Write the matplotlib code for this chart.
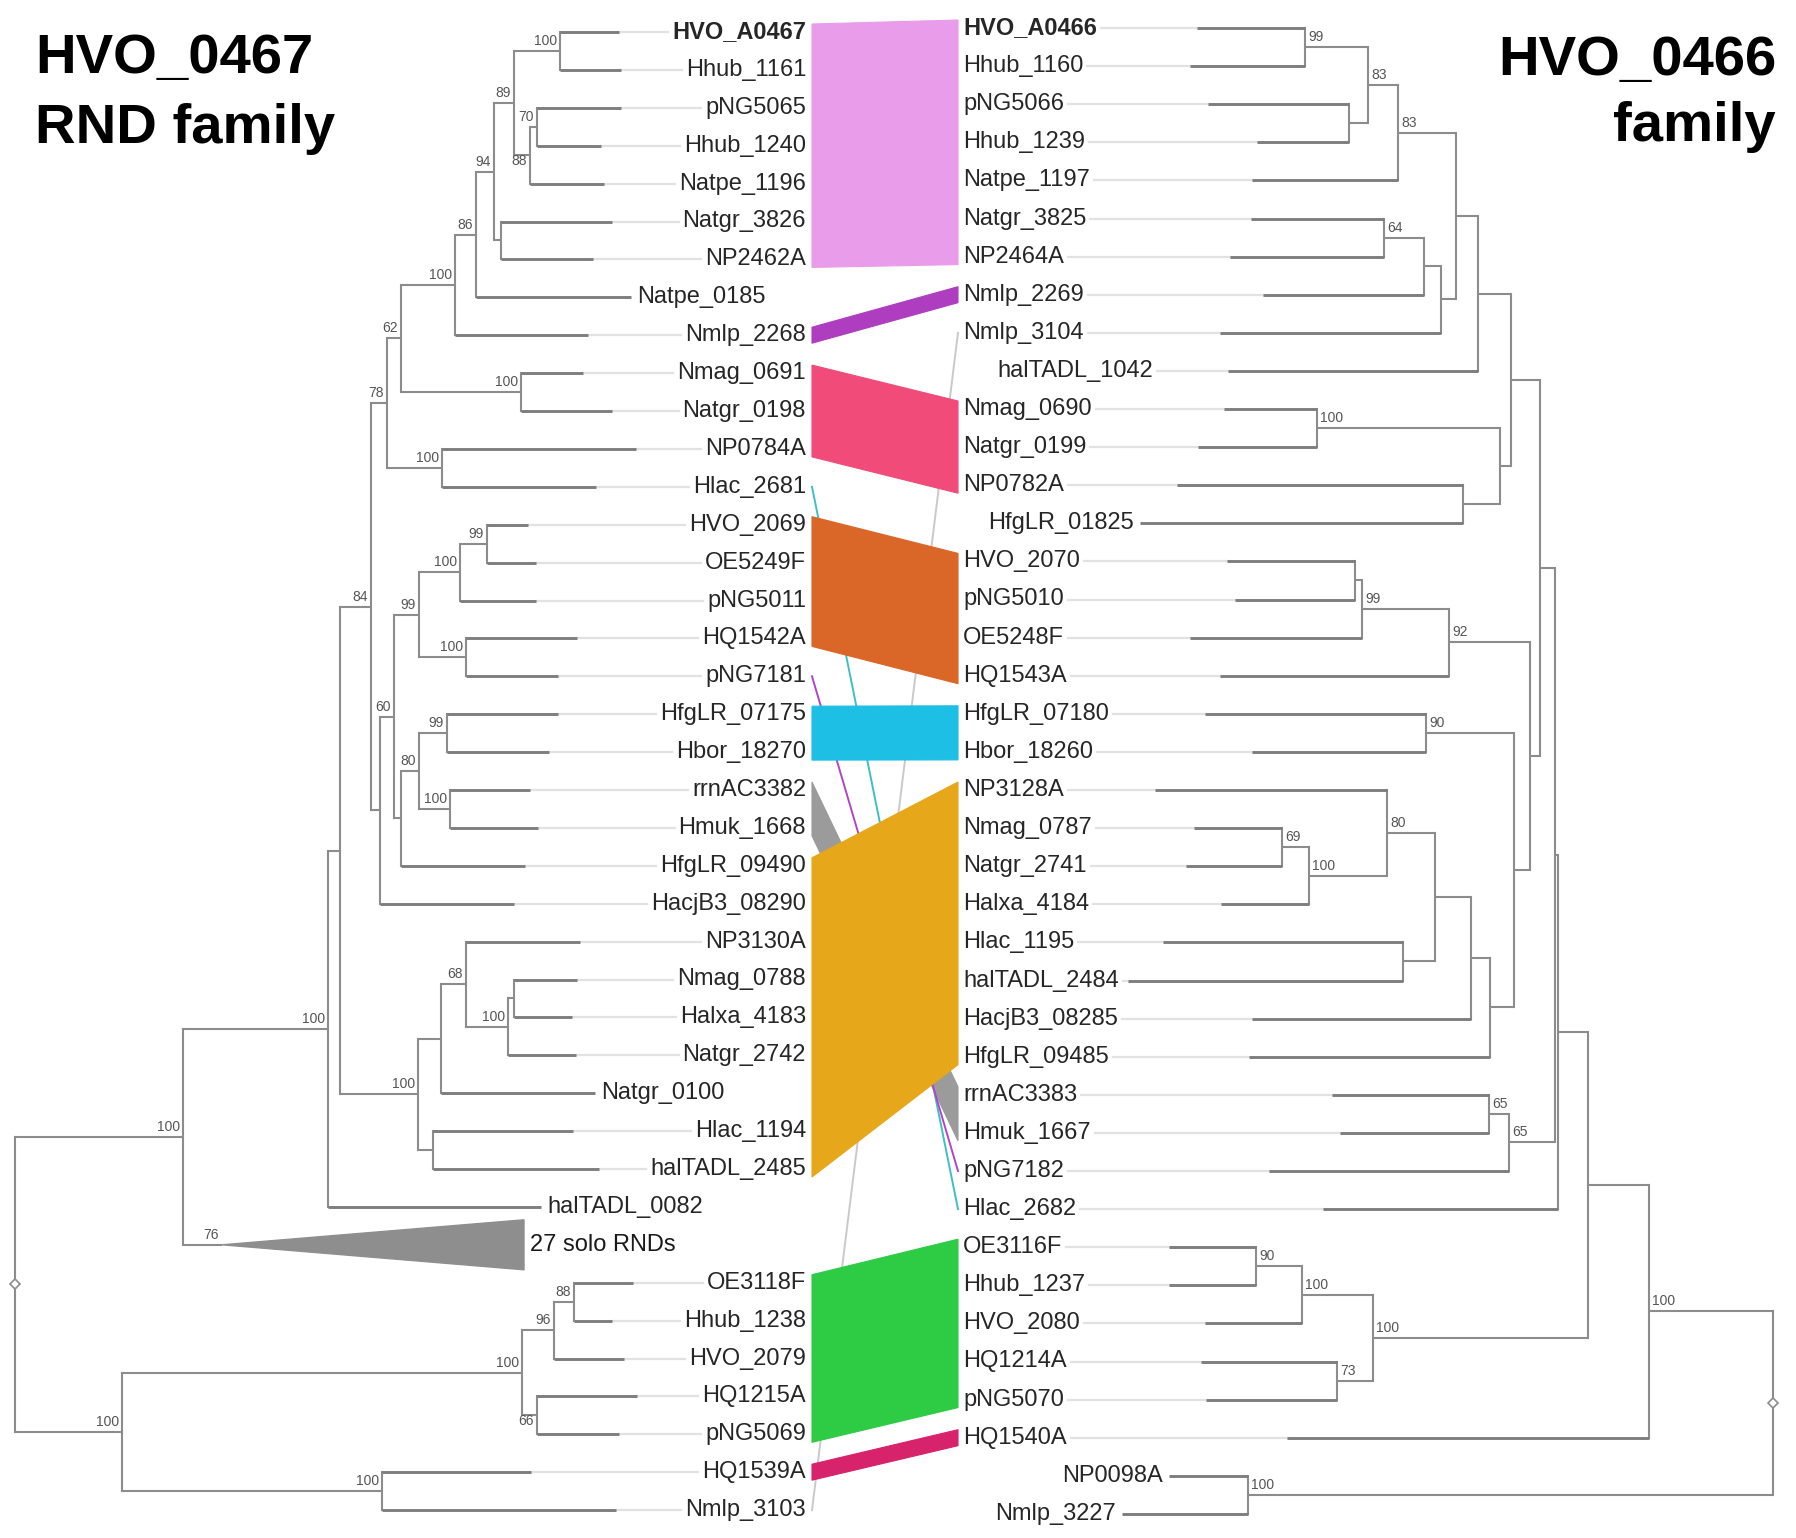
import matplotlib
matplotlib.use("Agg")
import matplotlib.pyplot as plt
from matplotlib.patches import Polygon

plt.rcParams["font.family"] = ["Liberation Sans", "DejaVu Sans"]

# ---------------- left tree: HVO_0467 RND family (top to bottom) ----------------
left_leaves = ["HVO_A0467", "Hhub_1161", "pNG5065", "Hhub_1240", "Natpe_1196", "Natgr_3826",
               "NP2462A", "Natpe_0185", "Nmlp_2268", "Nmag_0691", "Natgr_0198", "NP0784A",
               "Hlac_2681", "HVO_2069", "OE5249F", "pNG5011", "HQ1542A", "pNG7181",
               "HfgLR_07175", "Hbor_18270", "rrnAC3382", "Hmuk_1668", "HfgLR_09490",
               "HacjB3_08290", "NP3130A", "Nmag_0788", "Halxa_4183", "Natgr_2742", "Natgr_0100",
               "Hlac_1194", "halTADL_2485", "halTADL_0082", "27 solo RNDs", "OE3118F",
               "Hhub_1238", "HVO_2079", "HQ1215A", "pNG5069", "HQ1539A", "Nmlp_3103"]
# distance of each tip from the root
left_tips = [604, 606, 606, 586, 589, 597, 578, 616, 573, 568, 597, 621, 581, 513, 521, 521,
             562, 543, 543, 534, 515, 523, 510, 499, 565, 562, 557, 561, 580, 558, 584, 526,
             509, 618, 597, 609, 622, 604, 516, 601]
# collapsed clade: start of triangle, support
left_collapsed = {"27 solo RNDs": (207, "76")}
# (node, children, depth from root, bootstrap)
left_nodes = [
    ("a1", ["HVO_A0467", "Hhub_1161"], 545, "100"),
    ("a2", ["pNG5065", "Hhub_1240"], 522, "70"),
    ("a3", ["a2", "Natpe_1196"], 515, "88"),
    ("a4", ["a1", "a3"], 499, "89"),
    ("a5", ["Natgr_3826", "NP2462A"], 486, ""),
    ("a6", ["a4", "a5"], 479, "94"),
    ("a7", ["a6", "Natpe_0185"], 461, "86"),
    ("a8", ["a7", "Nmlp_2268"], 440, "100"),
    ("a9", ["Nmag_0691", "Natgr_0198"], 506, "100"),
    ("a10", ["a8", "a9"], 386, "62"),
    ("a11", ["NP0784A", "Hlac_2681"], 427, "100"),
    ("a12", ["a10", "a11"], 372, "78"),
    ("b1", ["HVO_2069", "OE5249F"], 472, "99"),
    ("b2", ["b1", "pNG5011"], 445, "100"),
    ("b3", ["HQ1542A", "pNG7181"], 451, "100"),
    ("b4", ["b2", "b3"], 404, "99"),
    ("b5", ["HfgLR_07175", "Hbor_18270"], 432, "99"),
    ("b6", ["rrnAC3382", "Hmuk_1668"], 435, "100"),
    ("b7", ["b5", "b6"], 404, "80"),
    ("b8", ["b7", "HfgLR_09490"], 386, ""),
    ("b9", ["b4", "b8"], 379, "60"),
    ("b10", ["b9", "HacjB3_08290"], 365, ""),
    ("b11", ["a12", "b10"], 356, "84"),
    ("c1", ["Nmag_0788", "Halxa_4183"], 499, ""),
    ("c2", ["c1", "Natgr_2742"], 493, "100"),
    ("c3", ["NP3130A", "c2"], 451, "68"),
    ("c4", ["c3", "Natgr_0100"], 426, ""),
    ("c5", ["Hlac_1194", "halTADL_2485"], 418, ""),
    ("c6", ["c4", "c5"], 403, "100"),
    ("c7", ["b11", "c6"], 325, ""),
    ("c8", ["c7", "halTADL_0082"], 313, "100"),
    ("c9", ["c8", "27 solo RNDs"], 168, "100"),
    ("d1", ["OE3118F", "Hhub_1238"], 559, "88"),
    ("d2", ["d1", "HVO_2079"], 539, "96"),
    ("d3", ["HQ1215A", "pNG5069"], 522, "66"),
    ("d4", ["d2", "d3"], 507, "100"),
    ("d5", ["HQ1539A", "Nmlp_3103"], 367, "100"),
    ("d6", ["d4", "d5"], 107, "100"),
    ("root", ["c9", "d6"], 0, ""),
]
left_support_below = {"a3", "d3"}

# ---------------- right tree: HVO_0466 family (top to bottom) ----------------
right_leaves = ["HVO_A0466", "Hhub_1160", "pNG5066", "Hhub_1239", "Natpe_1197", "Natgr_3825",
                "NP2464A", "Nmlp_2269", "Nmlp_3104", "halTADL_1042", "Nmag_0690", "Natgr_0199",
                "NP0782A", "HfgLR_01825", "HVO_2070", "pNG5010", "OE5248F", "HQ1543A",
                "HfgLR_07180", "Hbor_18260", "NP3128A", "Nmag_0787", "Natgr_2741", "Halxa_4184",
                "Hlac_1195", "halTADL_2484", "HacjB3_08285", "HfgLR_09485", "rrnAC3383",
                "Hmuk_1667", "pNG7182", "Hlac_2682", "OE3116F", "Hhub_1237", "HVO_2080",
                "HQ1214A", "pNG5070", "HQ1540A", "NP0098A", "Nmlp_3227"]
right_tips = [576, 583, 565, 516, 521, 522, 543, 510, 553, 545, 549, 575, 596, 633, 546, 538,
              583, 553, 568, 521, 618, 579, 587, 552, 610, 645, 521, 524, 441, 433, 504, 450,
              604, 604, 568, 572, 567, 486, 604, 651]
right_nodes = [
    ("r1", ["HVO_A0466", "Hhub_1160"], 468, "99"),
    ("r2", ["pNG5066", "Hhub_1239"], 424, ""),
    ("r3", ["r1", "r2"], 405, "83"),
    ("r4", ["r3", "Natpe_1197"], 375, "83"),
    ("r5", ["Natgr_3825", "NP2464A"], 389, "64"),
    ("r6", ["r5", "Nmlp_2269"], 349, ""),
    ("r7", ["r6", "Nmlp_3104"], 332, ""),
    ("r8", ["r4", "r7"], 317, ""),
    ("r9", ["r8", "halTADL_1042"], 295, ""),
    ("r10", ["Nmag_0690", "Natgr_0199"], 456, "100"),
    ("r11", ["NP0782A", "HfgLR_01825"], 310, ""),
    ("r12", ["r10", "r11"], 273, ""),
    ("r13", ["r9", "r12"], 262, ""),
    ("s1", ["HVO_2070", "pNG5010"], 418, ""),
    ("s2", ["s1", "OE5248F"], 411, "99"),
    ("s3", ["s2", "HQ1543A"], 324, "92"),
    ("s4", ["HfgLR_07180", "Hbor_18260"], 347, "90"),
    ("s5", ["Nmag_0787", "Natgr_2741"], 491, "69"),
    ("s6", ["s5", "Halxa_4184"], 464, "100"),
    ("s7", ["NP3128A", "s6"], 386, "80"),
    ("s8", ["Hlac_1195", "halTADL_2484"], 370, ""),
    ("s9", ["s7", "s8"], 338, ""),
    ("s10", ["s9", "HacjB3_08285"], 302, ""),
    ("s11", ["s10", "HfgLR_09485"], 283, ""),
    ("s12", ["s4", "s11"], 259, ""),
    ("s13", ["s3", "s12"], 243, ""),
    ("s14", ["r13", "s13"], 233, ""),
    ("t1", ["rrnAC3383", "Hmuk_1667"], 284, "65"),
    ("t2", ["t1", "pNG7182"], 264, "65"),
    ("t3", ["s14", "t2"], 218, ""),
    ("t4", ["t3", "Hlac_2682"], 215, ""),
    ("u1", ["OE3116F", "Hhub_1237"], 517, "90"),
    ("u2", ["u1", "HVO_2080"], 471, "100"),
    ("u3", ["HQ1214A", "pNG5070"], 436, "73"),
    ("u4", ["u2", "u3"], 400, "100"),
    ("u5", ["t4", "u4"], 185, ""),
    ("u6", ["u5", "HQ1540A"], 124, "100"),
    ("u7", ["NP0098A", "Nmlp_3227"], 525, "100"),
    ("root", ["u6", "u7"], 0, ""),
]
# unlinked label set in a second, indented column
right_indented = {"halTADL_1042"}

# ---------------- connections between the two trees ----------------
bands = [
    (["HVO_A0467", "Hhub_1161", "pNG5065", "Hhub_1240", "Natpe_1196", "Natgr_3826", "NP2462A"],
     ["HVO_A0466", "Hhub_1160", "pNG5066", "Hhub_1239", "Natpe_1197", "Natgr_3825", "NP2464A"],
     "#e99cea"),
    (["Nmlp_2268"], ["Nmlp_2269"], "#ae3ebf"),
    (["Nmag_0691", "Natgr_0198", "NP0784A"], ["Nmag_0690", "Natgr_0199", "NP0782A"], "#f04b79"),
    (["HVO_2069", "OE5249F", "pNG5011", "HQ1542A"],
     ["HVO_2070", "pNG5010", "OE5248F", "HQ1543A"], "#da6627"),
    (["HfgLR_07175", "Hbor_18270"], ["HfgLR_07180", "Hbor_18260"], "#1ebfe5"),
    (["HfgLR_09490", "HacjB3_08290", "NP3130A", "Nmag_0788", "Halxa_4183", "Natgr_2742",
      "Hlac_1194", "halTADL_2485"],
     ["NP3128A", "Nmag_0787", "Natgr_2741", "Halxa_4184", "Hlac_1195", "halTADL_2484",
      "HacjB3_08285", "HfgLR_09485"], "#e6a71b"),
    (["OE3118F", "Hhub_1238", "HVO_2079", "HQ1215A", "pNG5069"],
     ["OE3116F", "Hhub_1237", "HVO_2080", "HQ1214A", "pNG5070"], "#2ecb45"),
    (["HQ1539A"], ["HQ1540A"], "#d7226c"),
]
back_bands = [(["rrnAC3382", "Hmuk_1668"], ["rrnAC3383", "Hmuk_1667"], "#9b9b9b")]
links = [("Nmlp_3103", "Nmlp_3104", "#c9c9c9"),
         ("Hlac_2681", "Hlac_2682", "#3fbfc4"),
         ("pNG7181", "pNG7182", "#b045c6")]
bold_leaves = {"HVO_A0467", "HVO_A0466"}

# ---------------- layout ----------------
W, H = 1796, 1538
left_root_x, right_root_x = 15, 1773
left_row0, left_step = 32, 37.9
right_row0, right_step = 28, 38.1
left_label_x, right_label_x = 806, 963
indent_label_x = 997
band_left_x, band_right_x = 812, 958
band_pad = 8
tree_col, tip_col, guide_col = "#8c8c8c", "#7e7e7e", "#e2e2e2"
label_fs, support_fs = 17, 10

fig = plt.figure(figsize=(W / 100, H / 100), dpi=100)
ax = fig.add_axes([0, 0, 1, 1])
ax.set_xlim(0, W)
ax.set_ylim(H, 0)
ax.axis("off")
renderer = fig.canvas.get_renderer()

linked_left = set()
linked_right = set()
for l, r, _ in bands + back_bands:
    linked_left.update(l)
    linked_right.update(r)
for l, r, _ in links:
    linked_left.add(l)
    linked_right.add(r)


def text_xrange(t):
    bb = t.get_window_extent(renderer)
    inv = ax.transData.inverted()
    return inv.transform((bb.x0, 0))[0], inv.transform((bb.x1, 0))[0]


def draw_tree(leaves, tips, nodes, side, root_x, row0, step, linked,
              collapsed=None, below=(), indented=()):
    collapsed = collapsed or {}
    sign = 1 if side == "left" else -1
    X = lambda d: root_x + sign * d
    leaf_y = {n: row0 + step * i for i, n in enumerate(leaves)}
    tip_d = dict(zip(leaves, tips))
    node_map = {n: (ch, d, s) for n, ch, d, s in nodes}
    cache = {}

    def ypos(n):
        if n in leaf_y:
            return leaf_y[n]
        if n not in cache:
            ys = [ypos(c) for c in node_map[n][0]]
            cache[n] = (min(ys) + max(ys)) / 2
        return cache[n]

    def start_depth(c):
        if c in node_map:
            return node_map[c][1]
        if c in collapsed:
            return collapsed[c][0]
        return tip_d[c]

    for n, (children, d, sup) in node_map.items():
        x = X(d)
        ys = [ypos(c) for c in children]
        ax.plot([x, x], [min(ys), max(ys)], color=tree_col, lw=1.5,
                solid_capstyle="projecting", zorder=3)
        for c in children:
            is_leaf = c in leaf_y and c not in collapsed
            ax.plot([x, X(start_depth(c))], [ypos(c), ypos(c)],
                    color=tip_col if is_leaf else tree_col, lw=2.1 if is_leaf else 1.5,
                    solid_capstyle="butt", zorder=3)
        if sup:
            yy = ypos(n)
            off = 13 if n in below else -3
            ax.text(X(d) - sign * 3, yy + off, sup, fontsize=support_fs, color="#555555",
                    ha="right" if side == "left" else "left", va="bottom", zorder=4)
        if d == 0:
            ax.plot([x], [ypos(n)], marker="D", ms=5, mfc="white", mec=tree_col, mew=1.2,
                    zorder=5)

    for c, (d0, sup) in collapsed.items():
        y = leaf_y[c]
        x0, x1 = X(d0), X(tip_d[c])
        ax.add_patch(Polygon([(x0, y), (x1, y - 25), (x1, y + 25)], closed=True,
                             fc="#8e8e8e", ec="#8e8e8e", lw=1, zorder=3))
        ax.text(x0 - sign * 3, y - 3, sup, fontsize=support_fs, color="#555555",
                ha="right" if side == "left" else "left", va="bottom", zorder=4)
        ax.text(x1 + sign * 6, y, c, fontsize=label_fs, color="#1a1a1a",
                ha="left" if side == "left" else "right", va="center", zorder=4)

    for n in leaves:
        if n in collapsed:
            continue
        y = leaf_y[n]
        tx = X(tip_d[n])
        weight = "bold" if n in bold_leaves else "normal"
        if n in linked or n in indented:
            if n in indented:
                lx = indent_label_x
            else:
                lx = left_label_x if side == "left" else right_label_x
            t = ax.text(lx, y, n, fontsize=label_fs, color="#262626", fontweight=weight,
                        ha="right" if side == "left" else "left", va="center", zorder=4)
            a, b = text_xrange(t)
            if side == "left":
                ax.plot([tx, a - 4], [y, y], color=guide_col, lw=1.6, zorder=2)
            else:
                ax.plot([b + 4, tx], [y, y], color=guide_col, lw=1.6, zorder=2)
        else:
            ax.text(tx + sign * 6, y, n, fontsize=label_fs, color="#262626", fontweight=weight,
                    ha="left" if side == "left" else "right", va="center", zorder=4)
    return leaf_y


ly = draw_tree(left_leaves, left_tips, left_nodes, "left", left_root_x, left_row0, left_step,
               linked_left, left_collapsed, left_support_below)
ry = draw_tree(right_leaves, right_tips, right_nodes, "right", right_root_x, right_row0,
               right_step, linked_right, indented=right_indented)


def band(lnames, rnames, color, z):
    l = [ly[n] for n in lnames]
    r = [ry[n] for n in rnames]
    pts = [(band_left_x, min(l) - band_pad), (band_right_x, min(r) - band_pad),
           (band_right_x, max(r) + band_pad), (band_left_x, max(l) + band_pad)]
    ax.add_patch(Polygon(pts, closed=True, fc=color, ec=color, lw=0.8, zorder=z))


for l, r, c in back_bands:
    band(l, r, c, 1.2)
for l, r, c in links:
    ax.plot([band_left_x, band_right_x], [ly[l], ry[r]], color=c, lw=1.4,
            zorder=1.1 if c == "#c9c9c9" else 1.3)
for l, r, c in bands:
    band(l, r, c, 1.5)

# titles
ax.text(35, 73, "HVO_0467", fontsize=40.5, fontweight="bold", ha="left", va="baseline")
ax.text(35, 143, "RND family", fontsize=40.5, fontweight="bold", ha="left", va="baseline")
ax.text(1776, 75, "HVO_0466", fontsize=40.5, fontweight="bold", ha="right", va="baseline")
ax.text(1776, 141, "family", fontsize=40.5, fontweight="bold", ha="right", va="baseline")

fig.savefig("out.png", dpi=100, facecolor="white")
